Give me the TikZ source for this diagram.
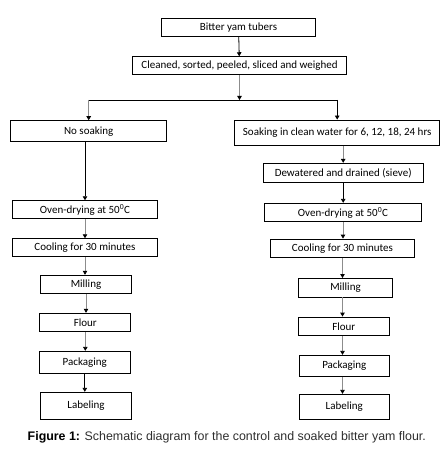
\documentclass[tikz,border=0pt]{standalone}
\usepackage{fontspec}
\setmainfont{Carlito}
\newfontfamily\capfont{Liberation Sans}
\usetikzlibrary{arrows.meta, positioning}
\definecolor{LineGray}{HTML}{8C8C8C}
\definecolor{CapGray}{HTML}{2E2E2E}

\begin{document}
\begin{tikzpicture}[
  x=1pt, y=-1pt,
  every node/.style = {font=\fontsize{11}{12}\selectfont},
  box/.style = {
    rectangle, draw, line width=0.9pt,
    inner sep=0pt, align=center
  },
  widebox/.style  = {box, minimum width=145pt, minimum height=18pt},
  smallbox/.style = {box, minimum width=91pt, minimum height=18.5pt},
  arr/.style      = {-{Triangle[length=4pt, width=4.5pt, color=black]}, line width=0.8pt},
  garr/.style     = {arr, draw=LineGray},
]
\useasboundingbox (0,0) rectangle (441,449);

% Top nodes
\node[box, minimum width=153.6pt, minimum height=17.7pt] (tubers) at (238.5,27.2)
      {Bitter yam tubers};
\node[box, minimum width=214.4pt, minimum height=18pt] (clean) at (239.5,65.7)
      {Cleaned, sorted, peeled, sliced and weighed};
\coordinate (split) at (239.5,100);

% Branch nodes
\node[box, minimum width=156pt, minimum height=21pt] (nosoak) at (88.7,131.2)
      {No soaking};
\node[box, minimum width=205pt, minimum height=25.7pt] (soak) at (337.2,132.9)
      {Soaking in clean water for 6, 12, 18, 24 hrs};

% Control column
\node[widebox] (ovenL) at (85,209.7) {Oven-drying at 50\textsuperscript{0}C};
\node[widebox] (coolL) at (85,247.7) {Cooling for 30 minutes};
\node[smallbox] (millL) at (86,284.5) {Milling};
\node[smallbox] (flourL) at (85.3,322.5) {Flour};
\node[smallbox, minimum height=22pt] (packL) at (84.8,362.3) {Packaging};
\node[smallbox, minimum height=27pt] (labelL) at (86,405.8) {Labeling};

% Soaked column
\node[box, minimum width=159.7pt, minimum height=19pt] (dewater) at (343.2,172.8)
      {Dewatered and drained (sieve)};
\node[box, minimum width=156.6pt, minimum height=18.4pt] (ovenR) at (343,212.5)
      {Oven-drying at 50\textsuperscript{0}C};
\node[box, minimum width=143.6pt, minimum height=18.3pt] (coolR) at (342.5,248.2)
      {Cooling for 30 minutes};
\node[smallbox, minimum width=94.4pt] (millR) at (345.5,287.7) {Milling};
\node[smallbox] (flourR) at (343.8,326.3) {Flour};
\node[smallbox, minimum width=90pt, minimum height=21pt] (packR) at (344.3,365.8) {Packaging};
\node[smallbox, minimum width=90pt, minimum height=25pt] (labelR) at (344.3,406.8) {Labeling};

% Caption
\node[font=\capfont\fontsize{12.4}{14}\selectfont, text=CapGray] (caption) at (226.8,437.7)
      {\textbf{\color{black}Figure 1:} Schematic diagram for the control and soaked bitter yam flour.};

% Arrows
\draw[arr] (tubers) -- (clean);
\draw[garr] (clean) -- (split);
\draw[line width=0.8pt] (nosoak.north |- split) -- (soak.north |- split);
\draw[garr] (nosoak.north |- split) -- (nosoak.north);
\draw[arr] (soak.north |- split) -- (soak.north);

\draw[arr] (ovenL.north |- nosoak.south) -- (ovenL.north);
\draw[garr] (ovenL.south) -- (coolL.north -| ovenL.south);
\draw[garr] (coolL.south) -- (millL.north -| coolL.south);
\draw[garr] (millL.south) -- (flourL.north -| millL.south);
\draw[garr] (flourL.south) -- (packL.north -| flourL.south);
\draw[arr] (packL.south) -- (labelL.north -| packL.south);

\draw[garr] (dewater.north |- soak.south) -- (dewater.north);
\draw[arr] (dewater.south) -- (ovenR.north -| dewater.south);
\draw[garr] (ovenR.south) -- (coolR.north -| ovenR.south);
\draw[garr] (coolR.south) -- (coolR.south |- millR.north);
\draw[garr] (coolR.south |- millR.south) -- (coolR.south |- flourR.north);
\draw[garr] (coolR.south |- flourR.south) -- (coolR.south |- packR.north);
\draw[garr] (coolR.south |- packR.south) -- (coolR.south |- labelR.north);

\end{tikzpicture}
\end{document}
